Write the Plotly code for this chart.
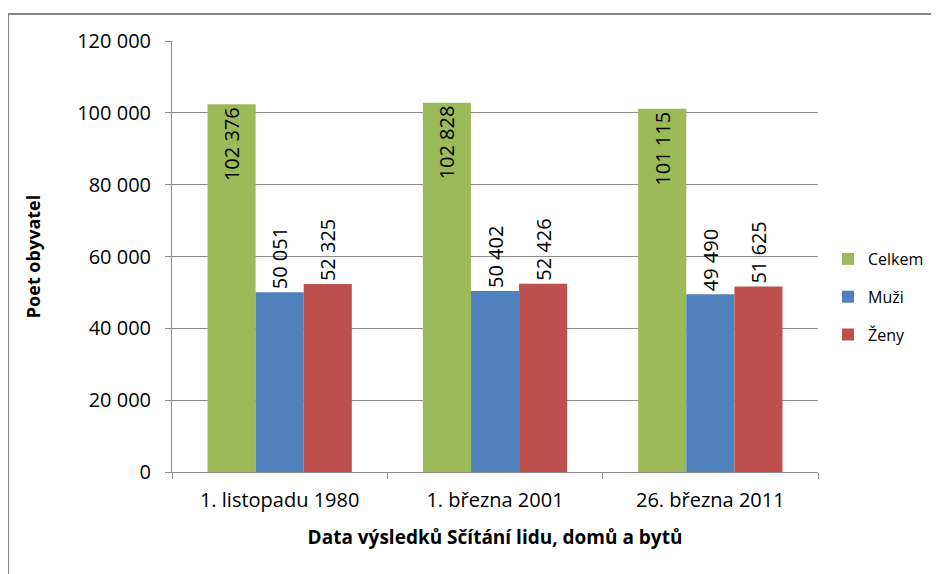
import plotly.graph_objects as go

# data
dates = ["1. listopadu 1980", "1. března 2001", "26. března 2011"]
celkem = [102376, 102828, 101115]
muzi = [50051, 50402, 49490]
zeny = [52325, 52426, 51625]

series = [
    ("Celkem", celkem, "#9BBB59", "inside"),
    ("Muži", muzi, "#4F81BD", "outside"),
    ("Ženy", zeny, "#C0504D", "outside"),
]

FONT = "Open Sans, DejaVu Sans, sans-serif"

fig = go.Figure()
for name, vals, color, pos in series:
    fig.add_trace(go.Bar(
        x=dates, y=vals, name=name, legendgroup=name,
        marker=dict(color=color, line=dict(width=0)),
        texttemplate="%{y:,}", textposition=pos, textangle=-90,
        insidetextanchor="end", constraintext="none", cliponaxis=False,
        textfont=dict(family=FONT, size=20, color="#000000"),
    ))

# the page body has an 8px margin, so the figure starts at (8, 8)
OFF = 8
W, H = 939 - OFF, 574 - OFF
ml, mr, mt, mb = 172 - OFF, 121, 41 - OFF, 102
pw, ph = W - ml - mr, H - mt - mb


def px_x(p):
    return (p - OFF - ml) / pw


def px_y(p):
    return (H - mb - (p - OFF)) / ph


fig.update_layout(
    width=W, height=H,
    margin=dict(l=ml, r=mr, t=mt, b=mb, autoexpand=False),
    paper_bgcolor="white", plot_bgcolor="white",
    barmode="group", bargap=0.33, bargroupgap=0,
    separators=", ",
    font=dict(family=FONT, size=20, color="#000000"),
    showlegend=True,
    legend=dict(x=px_x(828), y=px_y(297), xanchor="left", yanchor="middle",
                font=dict(size=16), traceorder="grouped", tracegroupgap=14,
                itemsizing="constant"),
    shapes=[
        dict(type="line", xref="paper", yref="paper", x0=px_x(8), x1=px_x(945),
             y0=px_y(14), y1=px_y(14), line=dict(color="#868686", width=2)),
        dict(type="line", xref="paper", yref="paper", x0=px_x(8), x1=px_x(8),
             y0=px_y(14), y1=px_y(580), line=dict(color="#868686", width=2)),
    ],
)

fig.update_yaxes(
    range=[0, 120000], dtick=20000, tickformat=",",
    showgrid=True, gridcolor="#8c8c8c", gridwidth=1,
    showline=True, linecolor="#8c8c8c", linewidth=1,
    ticks="outside", ticklen=6, tickcolor="#8c8c8c", ticklabelstandoff=10,
    zeroline=False,
    title=dict(text="<b>Poet obyvatel</b>", font=dict(size=18), standoff=31),
)
fig.update_xaxes(
    showline=True, linecolor="#8c8c8c", linewidth=1,
    ticks="outside", ticklen=6, tickcolor="#8c8c8c", tickson="boundaries",
    ticklabelstandoff=10,
    title=dict(text="<b>Data výsledků Sčítání lidu, domů a bytů</b>", font=dict(size=19), standoff=18),
)

fig.write_html("out.html")
